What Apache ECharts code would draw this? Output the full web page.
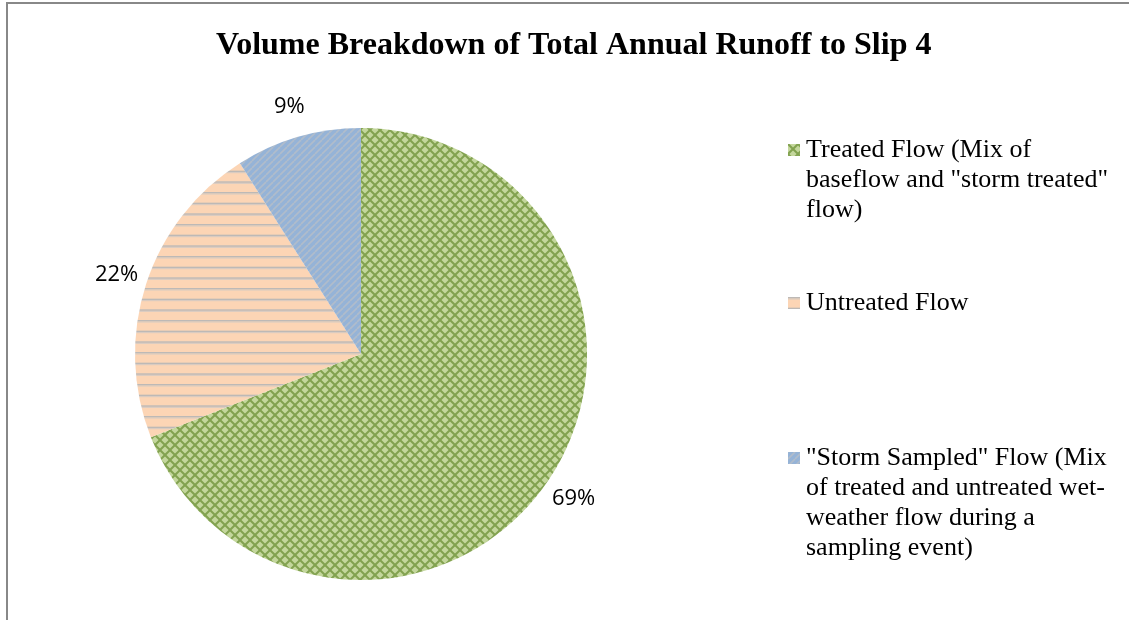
<!DOCTYPE html>
<html>
<head>
<meta charset="utf-8">
<script src="https://cdn.jsdelivr.net/npm/echarts@6/dist/echarts.min.js"></script>
<style>
html,body{margin:0;padding:0;background:#fff;}
#chart{width:1129px;height:620px;}
</style>
</head>
<body>
<div id="chart"></div>
<script>
const titleText = 'Volume Breakdown of Total Annual Runoff to Slip 4';
const categories = [
  'Treated Flow (Mix of\nbaseflow and "storm treated"\nflow)',
  'Untreated Flow',
  '"Storm Sampled" Flow (Mix\nof treated and untreated wet-\nweather flow during a\nsampling event)'
];
const values = [69, 22, 9];

function makeTile(w, h, bg, draw) {
  const c = document.createElement('canvas');
  c.width = w; c.height = h;
  const ctx = c.getContext('2d');
  ctx.fillStyle = bg; ctx.fillRect(0, 0, w, h);
  draw(ctx, w, h);
  return c;
}
const greenTile = makeTile(10, 10, '#c4d79d', function (ctx, w, h) {
  ctx.strokeStyle = '#82a250'; ctx.lineWidth = 2.0;
  for (let k = -w; k <= w; k += w) {
    ctx.beginPath(); ctx.moveTo(k, 0); ctx.lineTo(k + w, h); ctx.stroke();
    ctx.beginPath(); ctx.moveTo(k + w, 0); ctx.lineTo(k, h); ctx.stroke();
  }
});
const orangeTile = makeTile(8, 32, '#fcd5b5', function (ctx, w, h) {
  for (let i = 0; i < 3; i++) {
    ctx.fillStyle = '#bdb9b6'; ctx.fillRect(0, i * 32 / 3, w, 1.5);
    ctx.fillStyle = '#d6cbc2'; ctx.fillRect(0, i * 32 / 3 + 1.5, w, 1);
  }
});
const blueTile = makeTile(7, 7, '#95b3d7', function (ctx, w, h) {
  ctx.strokeStyle = '#b0bccb'; ctx.lineWidth = 1.7;
  for (let k = -w; k <= w; k += w) {
    ctx.beginPath(); ctx.moveTo(k, h); ctx.lineTo(k + w, 0); ctx.stroke();
  }
});
const fills = [greenTile, orangeTile, blueTile].map(function (t) {
  return { image: t, repeat: 'repeat' };
});

const chart = echarts.init(document.getElementById('chart'), null, { renderer: 'canvas' });

const legendFont = {
  fontFamily: '"Liberation Serif", "Times New Roman", serif',
  fontSize: 26, color: '#000', lineHeight: 30
};
function legendFor(i, top) {
  const lines = categories[i].split('\n').length;
  return {
    data: [categories[i]], left: 788, top: top, orient: 'vertical', padding: 0,
    icon: 'rect', itemWidth: 12, itemHeight: 12, itemGap: 0,
    selectedMode: false,
    formatter: function (name) { return '\n'.repeat(lines - 1) + name; },
    textStyle: Object.assign({}, legendFont, { padding: [0, 0, 0, 1] })
  };
}

chart.setOption({
  animation: false,
  backgroundColor: '#fff',
  title: {
    text: titleText, left: 216, top: 30, padding: 0,
    textStyle: { fontFamily: '"Liberation Serif", "Times New Roman", serif', fontWeight: 'bold', fontSize: 32, color: '#000' }
  },
  graphic: [{
    type: 'polyline', silent: true,
    shape: { points: [[7, 620], [7, 3], [1129, 3]] },
    style: { stroke: '#888888', lineWidth: 2, fill: null }
  }],
  legend: [legendFor(0, 75), legendFor(1, 288), legendFor(2, 353)],
  series: [{
    type: 'pie',
    center: [361, 354], radius: 226,
    startAngle: 90, clockwise: true,
    avoidLabelOverlap: false,
    data: categories.map(function (n, i) {
      return { name: n, value: values[i], itemStyle: { color: fills[i] } };
    }),
    itemStyle: { borderWidth: 0 },
    emphasis: { disabled: true },
    label: {
      show: true, position: 'outside', formatter: '{c}%',
      fontFamily: '"Open Sans", "Liberation Sans", sans-serif', fontSize: 22, color: '#000'
    },
    labelLine: { show: true, length: 20, length2: 0, lineStyle: { opacity: 0, width: 0 } },
    labelLayout: function (p) {
      const pts = p.labelLinePoints;
      if (!pts) return {};
      const dx = pts[1][0] - pts[0][0], dy = pts[1][1] - pts[0][1];
      const n = Math.hypot(dx, dy) || 1;
      const ux = dx / n, uy = dy / n;
      const d = 31;
      return { x: pts[0][0] + ux * d, y: pts[0][1] + uy * d, align: 'center', verticalAlign: 'middle' };
    }
  }]
});
</script>
</body>
</html>
